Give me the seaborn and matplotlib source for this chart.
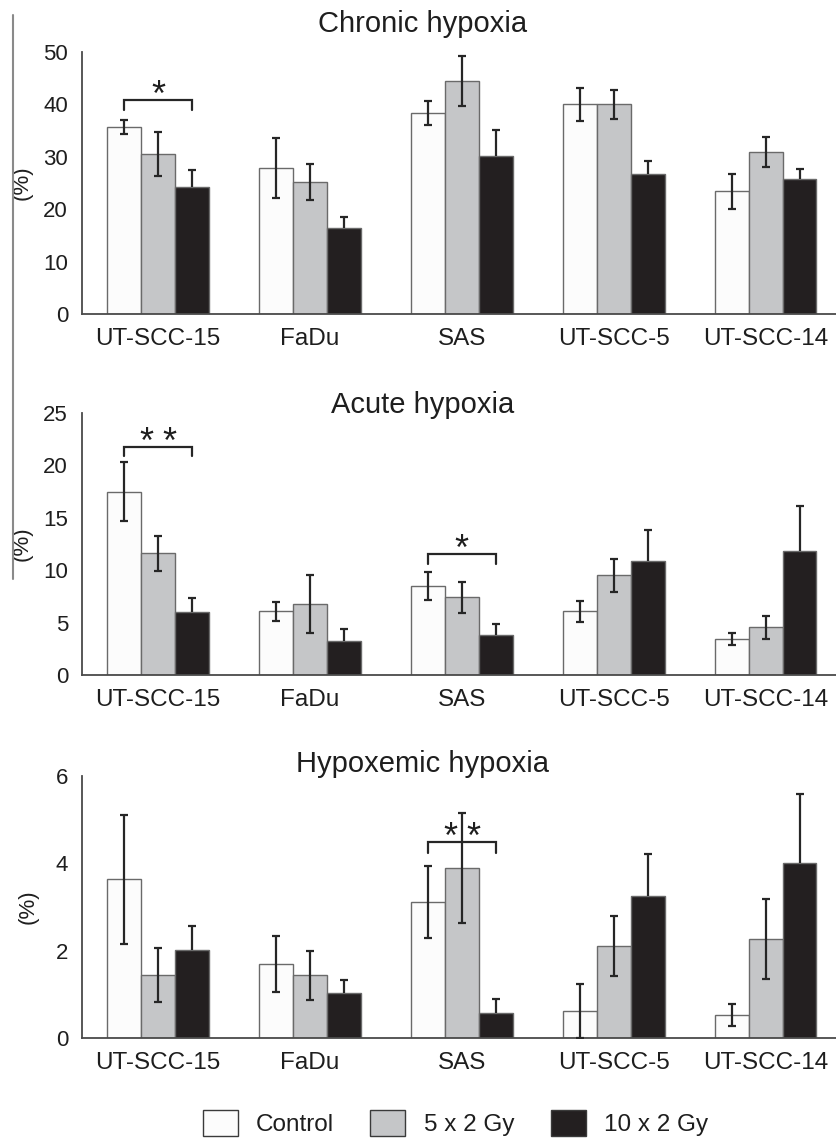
import numpy as np
import pandas as pd
import matplotlib
matplotlib.use("Agg")
import matplotlib.pyplot as plt
import seaborn as sns
from matplotlib.patches import Patch
from matplotlib.lines import Line2D
from matplotlib.container import BarContainer

# ---- data -------------------------------------------------------------
cells = ["UT-SCC-15", "FaDu", "SAS", "UT-SCC-5", "UT-SCC-14"]
groups = ["Control", "5 x 2 Gy", "10 x 2 Gy"]

chronic_control = [35.7, 27.8, 38.3, 40.0, 23.4]
chronic_5x2 = [30.5, 25.2, 44.5, 40.0, 30.9]
chronic_10x2 = [24.3, 16.4, 30.2, 26.7, 25.8]
chronic_control_err = [1.4, 5.7, 2.3, 3.2, 3.4]
chronic_5x2_err = [4.2, 3.4, 4.8, 2.8, 2.9]
chronic_10x2_err = [3.2, 2.1, 4.9, 2.5, 1.9]

acute_control = [17.5, 6.1, 8.5, 6.1, 3.45]
acute_5x2 = [11.6, 6.8, 7.4, 9.5, 4.55]
acute_10x2 = [6.05, 3.25, 3.8, 10.9, 11.8]
acute_control_err = [2.8, 0.9, 1.35, 1.0, 0.57]
acute_5x2_err = [1.7, 2.75, 1.45, 1.6, 1.1]
acute_10x2_err = [1.3, 1.15, 1.05, 2.95, 4.3]

hypox_control = [3.63, 1.69, 3.12, 0.62, 0.53]
hypox_5x2 = [1.44, 1.44, 3.9, 2.11, 2.27]
hypox_10x2 = [2.01, 1.02, 0.58, 3.25, 4.0]
hypox_control_err = [1.48, 0.64, 0.83, 0.62, 0.26]
hypox_5x2_err = [0.61, 0.56, 1.26, 0.69, 0.91]
hypox_10x2_err = [0.55, 0.31, 0.31, 0.96, 1.58]

titles = ["Chronic hypoxia", "Acute hypoxia", "Hypoxemic hypoxia"]
y_max = [50, 25, 6]
y_ticks = [[0, 10, 20, 30, 40, 50], [0, 5, 10, 15, 20, 25], [0, 2, 4, 6]]

# significance brackets: (cell index, bracket height, leg end, number of stars)
chronic_sig = [(0, 40.9, 38.9, 1)]
acute_sig = [(0, 21.8, 20.9, 2), (2, 11.55, 10.6, 1)]
hypox_sig = [(2, 4.49, 4.23, 2)]

# ---- style ------------------------------------------------------------
sns.set_theme(style="white")
plt.rcParams["font.family"] = ["Liberation Sans", "DejaVu Sans"]
TXT = "#1e1e1e"
AXC = "#4a4a4a"
colors = ["#fcfcfc", "#c5c6c8", "#231f20"]
EDGE = "#6a6a6a"
ERRC = "#262626"

W, H = 837, 1140
fig = plt.figure(figsize=(W / 100, H / 100), dpi=100)


def fy(py):
    return 1 - py / H


panels = [
    dict(means=[chronic_control, chronic_5x2, chronic_10x2],
         errs=[chronic_control_err, chronic_5x2_err, chronic_10x2_err],
         top=52, bottom=314, title_base=32, sig=chronic_sig, ylab_x=-0.065),
    dict(means=[acute_control, acute_5x2, acute_10x2],
         errs=[acute_control_err, acute_5x2_err, acute_10x2_err],
         top=413, bottom=675, title_base=413, sig=acute_sig, ylab_x=-0.065),
    dict(means=[hypox_control, hypox_5x2, hypox_10x2],
         errs=[hypox_control_err, hypox_5x2_err, hypox_10x2_err],
         top=776, bottom=1038, title_base=772, sig=hypox_sig, ylab_x=-0.058),
]

left_px, right_px = 82, 837

for k, p in enumerate(panels):
    ax = fig.add_axes([left_px / W, fy(p["bottom"]), (right_px - left_px) / W,
                       (p["bottom"] - p["top"]) / H])
    df = pd.DataFrame({
        "cell": cells * 3,
        "treatment": [g for g in groups for _ in cells],
        "value": [v for series in p["means"] for v in series],
    })
    sns.barplot(data=df, x="cell", y="value", hue="treatment", order=cells,
                hue_order=groups, palette=colors, saturation=1, width=0.67,
                gap=0, errorbar=None, edgecolor=EDGE, linewidth=1.0,
                legend=False, ax=ax, zorder=2)

    bar_sets = [c for c in ax.containers if isinstance(c, BarContainer)]
    centers = []
    for j, cont in enumerate(bar_sets):
        xs = [b.get_x() + b.get_width() / 2 for b in cont.patches]
        centers.append(xs)
        err = np.asarray(p["errs"][j], dtype=float)
        dark = j == 2
        # on the dark bars only the upper whisker shows
        lower = np.zeros_like(err) if dark else err
        eb = ax.errorbar(xs, p["means"][j], yerr=[lower, err], fmt="none",
                         ecolor=ERRC, elinewidth=1.6, capsize=2.8,
                         capthick=1.6, zorder=3)
        if dark:
            eb.lines[1][0].set_visible(False)

    for (ci, yb, yl, nstar) in p["sig"]:
        x0, x1 = centers[0][ci], centers[2][ci]
        ax.plot([x0, x0, x1, x1], [yl, yb, yb, yl], color=ERRC,
                lw=1.6, zorder=4, solid_joinstyle="miter")
        xm = (x0 + x1) / 2
        offs = [0] if nstar == 1 else [-8.5, 8.5]
        for o in offs:
            ax.annotate("*", xy=(xm, yb), xytext=(o, -4.5),
                        textcoords="offset points", ha="center",
                        va="baseline", fontsize=26, color=TXT, zorder=5)

    ax.set_xlim(-0.5, 4.47)
    ax.set_ylim(0, y_max[k])
    ax.set_yticks(y_ticks[k])
    ax.set_xlabel("")
    ax.set_ylabel("(%)", fontsize=16, color=TXT)
    ax.yaxis.set_label_coords(p["ylab_x"], 0.5)
    for s in ["top", "right"]:
        ax.spines[s].set_visible(False)
    for s in ["left", "bottom"]:
        ax.spines[s].set_color(AXC)
        ax.spines[s].set_linewidth(1.3)
    ax.tick_params(axis="y", direction="in", length=7, width=1.3, color=AXC,
                   pad=10, labelsize=16, labelcolor=TXT)
    ax.tick_params(axis="x", length=0, pad=10, labelsize=17.5, labelcolor=TXT)
    ax.set_facecolor("white")

    fig.text(0.505, fy(p["title_base"]), titles[k], ha="center",
             va="baseline", fontsize=21, color=TXT)

# legend
handles = [Patch(facecolor=c, edgecolor="#3a3a3a", linewidth=1.0) for c in colors]
fig.legend(handles, groups, loc="center", bbox_to_anchor=(0.544, fy(1123)),
           ncol=3, frameon=False, handlelength=1.44, handleheight=1.3,
           handletextpad=0.75, columnspacing=1.5, fontsize=17.5,
           labelcolor=TXT)

# thin rule along the left margin
fig.add_artist(Line2D([13 / W, 13 / W], [fy(15), fy(579)], color="#8a8a8a", lw=1.5))

fig.savefig("out.png", dpi=100, facecolor="white")
